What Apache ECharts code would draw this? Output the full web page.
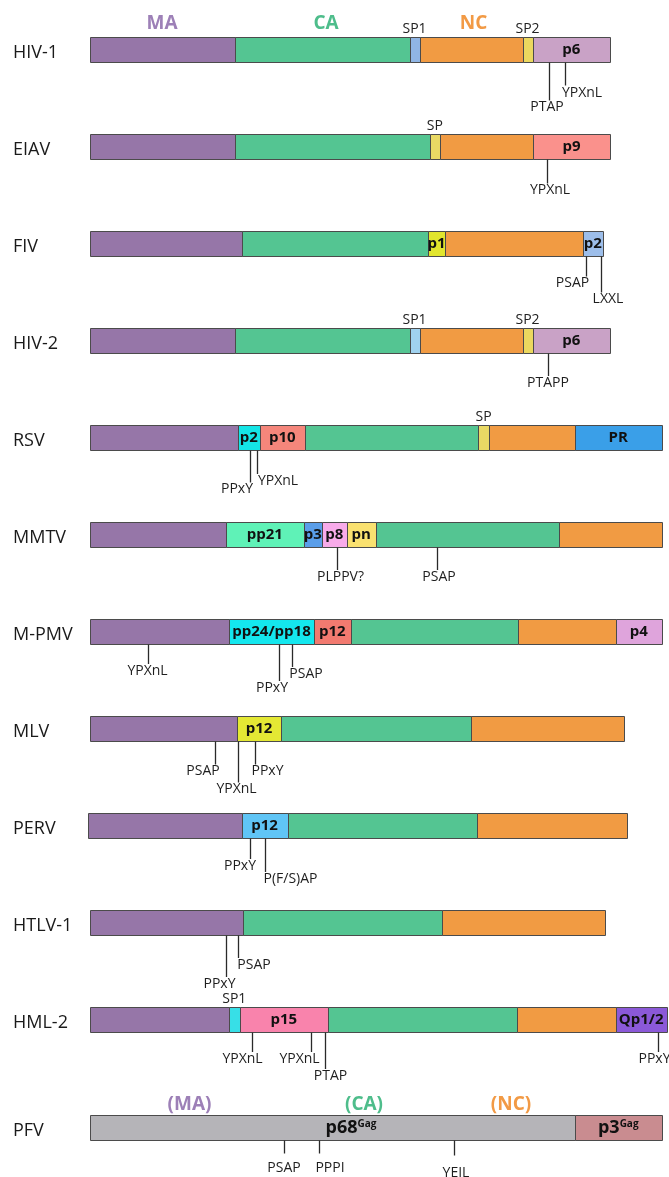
<!DOCTYPE html>
<html>
<head>
<meta charset="utf-8">
<script src="https://cdn.jsdelivr.net/npm/echarts@6/dist/echarts.min.js"></script>
<style>
  html, body { margin: 0; padding: 0; background: #fff; }
  #chart { width: 669px; height: 1177px; }
</style>
</head>
<body>
<div id="chart"></div>
<script>
// rows (top panel) and the PFV panel
var rowNames = ['HIV-1', 'EIAV', 'FIV', 'HIV-2', 'RSV', 'MMTV', 'M-PMV', 'MLV', 'PERV', 'HTLV-1', 'HML-2'];
var pfvRows = ['PFV'];

// Gag domains of each virus: part names and their edges along the schematic
var hiv1Parts = ['MA', 'CA', 'SP1', 'NC', 'SP2', 'p6'];
var hiv1Edges = [90, 234.5, 409.5, 419.5, 522.5, 532.5, 610];
var eiavParts = ['MA', 'CA', 'SP', 'NC', 'p9'];
var eiavEdges = [90, 234.5, 429.5, 440, 533, 610];
var fivParts = ['MA', 'CA', 'p1', 'NC', 'p2'];
var fivEdges = [90, 241.5, 428, 445, 583, 602.5];
var hiv2Parts = ['MA', 'CA', 'SP1', 'NC', 'SP2', 'p6'];
var hiv2Edges = [90, 234.5, 409.5, 419.5, 522.5, 532.5, 610];
var rsvParts = ['MA', 'p2', 'p10', 'CA', 'SP', 'NC', 'PR'];
var rsvEdges = [90, 237.5, 260, 304.5, 478.5, 488.5, 575, 661.5];
var mmtvParts = ['MA', 'pp21', 'p3', 'p8', 'pn', 'CA', 'NC'];
var mmtvEdges = [90, 225.5, 304, 321.5, 347, 375.5, 558.5, 661.5];
var mpmvParts = ['MA', 'pp24/pp18', 'p12', 'CA', 'NC', 'p4'];
var mpmvEdges = [90, 229, 314, 350.5, 517.5, 616, 661.5];
var mlvParts = ['MA', 'p12', 'CA', 'NC'];
var mlvEdges = [90, 237, 281, 470.5, 624];
var pervParts = ['MA', 'p12', 'CA', 'NC'];
var pervEdges = [87.5, 241.5, 287.5, 476.5, 627];
var htlvParts = ['MA', 'CA', 'NC'];
var htlvEdges = [90, 243.5, 442, 604.5];
var hmlParts = ['MA', 'SP1', 'p15', 'CA', 'NC', 'Qp1/2'];
var hmlEdges = [90, 228.5, 240, 327.5, 516.5, 615.5, 667];
var pfvParts = ['p68^Gag', 'p3^Gag'];
var pfvEdges = [90, 575, 661.5];

// late-domain motifs: [virus, position, motif]
var motifs = [
  ['HIV-1', 549, 'PTAP'], ['HIV-1', 565, 'YPXnL'],
  ['EIAV', 546.5, 'YPXnL'],
  ['FIV', 585.5, 'PSAP'], ['FIV', 600.5, 'LXXL'],
  ['HIV-2', 548, 'PTAPP'],
  ['RSV', 250, 'PPxY'], ['RSV', 256.5, 'YPXnL'],
  ['MMTV', 337, 'PLPPV?'], ['MMTV', 437, 'PSAP'],
  ['M-PMV', 147.5, 'YPXnL'], ['M-PMV', 278.5, 'PPxY'], ['M-PMV', 291.5, 'PSAP'],
  ['MLV', 215, 'PSAP'], ['MLV', 237.5, 'YPXnL'], ['MLV', 254.5, 'PPxY'],
  ['PERV', 250, 'PPxY'], ['PERV', 265, 'P(F/S)AP'],
  ['HTLV-1', 225.5, 'PPxY'], ['HTLV-1', 237.5, 'PSAP'],
  ['HML-2', 251.5, 'YPXnL'], ['HML-2', 311, 'YPXnL'], ['HML-2', 324.5, 'PTAP'], ['HML-2', 657.5, 'PPxY'],
  ['PFV', 284, 'PSAP'], ['PFV', 318.5, 'PPPI'], ['PFV', 454, 'YEIL']
];

// domain headings above HIV-1 and PFV: [virus, position, text, domain]
var headings = [
  ['HIV-1', 162, 'MA', 'MA'], ['HIV-1', 326, 'CA', 'CA'], ['HIV-1', 473.5, 'NC', 'NC'],
  ['PFV', 189.5, '(MA)', 'MA'], ['PFV', 364, '(CA)', 'CA'], ['PFV', 511, '(NC)', 'NC']
];

// ---------- styling ----------
var FONT = '"Open Sans", "Noto Sans", sans-serif';
var BAR_H = 25;
var baseColors = { MA: '#9676a8', CA: '#54c592', NC: '#f19b43' };
var headColors = { MA: '#9d80b7', CA: '#4ebd8b', NC: '#f29a45' };
var partColors = {
  'HIV-1': { SP1: '#90b5e4', SP2: '#ebd85f', p6: '#c9a2c6' },
  'EIAV': { SP: '#e9d964', p9: '#fa918c' },
  'FIV': { p1: '#e1e52d', p2: '#9dbeea' },
  'HIV-2': { SP1: '#a0d2ef', SP2: '#ebd85f', p6: '#c9a2c6' },
  'RSV': { p2: '#14e5e6', p10: '#f5867b', SP: '#e9d964', PR: '#3a9fe8' },
  'MMTV': { pp21: '#5ff2b7', p3: '#5a9ee9', p8: '#f8abea', pn: '#f9e170' },
  'M-PMV': { 'pp24/pp18': '#14e7ee', p12: '#f27a70', p4: '#dfa4dc' },
  'MLV': { p12: '#e4e834' },
  'PERV': { p12: '#60c5f6' },
  'HML-2': { SP1: '#37dfe7', p15: '#f983ac', 'Qp1/2': '#8b59d8' },
  'PFV': { 'p68^Gag': '#b5b4b8', 'p3^Gag': '#c98c90' }
};
// where a label is not centred in its domain
var labelAt = { 'PFV:p68^Gag': 351 };
// motif line length, text dx, text dy (same order as motifs)
var motifLayout = [
  [38, -2, 7], [23, 17, 8],
  [24, 3.5, 7],
  [20, -13, 7], [36, 7.5, 7],
  [22.5, 0, 7],
  [32, -13, 7], [23.5, 21.5, 7],
  [22.5, 3.5, 7], [22.5, 2, 7],
  [19.5, 0, 7], [36.5, -6.5, 7], [22.5, 14.5, 7],
  [23, -12, 7], [41, -1, 7], [23, 13, 7],
  [20.5, -10, 7], [33.5, 25.5, 7],
  [41.5, -6, 7], [22.5, 16.5, 7],
  [19.5, -9, 7], [19.5, -11.5, 7], [36.5, 6, 7], [19.5, -3, 7],
  [13, 0, 15], [13, 11.5, 15], [15, 2, 18]
];
var headGap = { 'HIV-1': 13.5, 'PFV': 10 };

var virusParts = {
  'HIV-1': [hiv1Parts, hiv1Edges], 'EIAV': [eiavParts, eiavEdges], 'FIV': [fivParts, fivEdges],
  'HIV-2': [hiv2Parts, hiv2Edges], 'RSV': [rsvParts, rsvEdges], 'MMTV': [mmtvParts, mmtvEdges],
  'M-PMV': [mpmvParts, mpmvEdges], 'MLV': [mlvParts, mlvEdges], 'PERV': [pervParts, pervEdges],
  'HTLV-1': [htlvParts, htlvEdges], 'HML-2': [hmlParts, hmlEdges], 'PFV': [pfvParts, pfvEdges]
};

function colorOf (virus, part) {
  var own = partColors[virus] || {};
  return own[part] || baseColors[part] || '#cccccc';
}

//build segment list for a set of rows
function buildSegments (rows) {
  var list = [];
  for (var r = 0; r < rows.length; r++) {
    var pe = virusParts[rows[r]];
    for (var i = 0; i < pe[0].length; i++) {
      list.push({ virus: rows[r], row: r, name: pe[0][i], start: pe[1][i], end: pe[1][i + 1] });
    }
  }
  return list;
}

function segmentRenderer (segs) {
  return function (params, api) {
    var s = segs[params.dataIndex];
    var p0 = api.coord([api.value(0), api.value(2)]);
    var p1 = api.coord([api.value(1), api.value(2)]);
    var top = Math.round(p0[1] - BAR_H / 2) + 0.5;
    var children = [{
      type: 'rect',
      shape: { x: Math.round(p0[0]) + 0.5, y: top, width: Math.round(p1[0]) - Math.round(p0[0]), height: BAR_H },
      style: { fill: colorOf(s.virus, s.name), stroke: '#4b4b4b', lineWidth: 1 }
    }];
    if (/^SP/.test(s.name)) {
      children.push({
        type: 'text', x: (p0[0] + p1[0]) / 2, y: top - 8,
        style: { text: s.name, fill: '#222', fontFamily: FONT, fontSize: 14, align: 'center', verticalAlign: 'middle' }
      });
    } else if (!baseColors[s.name]) {
      var cx = (p0[0] + p1[0]) / 2;
      var key = s.virus + ':' + s.name;
      if (labelAt[key] != null) cx = api.coord([labelAt[key], api.value(2)])[0];
      var txt, rich;
      if (s.name.indexOf('^') >= 0) {
        var bits = s.name.split('^');
        txt = '{b|' + bits[0] + '}{s|' + bits[1] + '}';
        rich = {
          b: { fontFamily: FONT, fontSize: 18, fontWeight: 'bold', fill: '#111' },
          s: { fontFamily: FONT, fontSize: 10, fontWeight: 'bold', fill: '#111', verticalAlign: 'top' }
        };
      } else {
        txt = s.name;
      }
      children.push({
        type: 'text', x: cx, y: p0[1] + 0.5,
        style: { text: txt, rich: rich, fill: '#111', fontFamily: FONT, fontSize: 15, fontWeight: 'bold', align: 'center', verticalAlign: 'middle' }
      });
    }
    return { type: 'group', children: children };
  };
}

function motifRenderer (items) {
  return function (params, api) {
    var m = items[params.dataIndex];
    var lay = motifLayout[m.index];
    var p = api.coord([api.value(0), api.value(1)]);
    var x = Math.round(p[0]) + 0.5;
    var bottom = Math.round(p[1] - BAR_H / 2) + BAR_H + 0.5;
    return {
      type: 'group',
      children: [{
        type: 'line',
        shape: { x1: x, y1: bottom, x2: x, y2: bottom + lay[0] },
        style: { stroke: '#2a2a2a', lineWidth: 1.3 }
      }, {
        type: 'text', x: p[0] + lay[1], y: bottom + lay[0] + lay[2],
        style: { text: m.label, fill: '#1e1e1e', fontFamily: FONT, fontSize: 14, align: 'center', verticalAlign: 'middle' }
      }]
    };
  };
}

function headingRenderer (items) {
  return function (params, api) {
    var h = items[params.dataIndex];
    var p = api.coord([api.value(0), api.value(1)]);
    var top = Math.round(p[1] - BAR_H / 2);
    return {
      type: 'text', x: p[0], y: top - headGap[h.virus],
      style: { text: h.text, fill: headColors[h.domain], fontFamily: FONT, fontSize: 19, fontWeight: 'bold', align: 'center', verticalAlign: 'middle' }
    };
  };
}

function panelSeries (rows, gi) {
  var segs = buildSegments(rows);
  var ms = [], hs = [];
  for (var i = 0; i < motifs.length; i++) {
    var r = rows.indexOf(motifs[i][0]);
    if (r >= 0) ms.push({ index: i, row: r, pos: motifs[i][1], label: motifs[i][2] });
  }
  for (var j = 0; j < headings.length; j++) {
    var hr = rows.indexOf(headings[j][0]);
    if (hr >= 0) hs.push({ virus: headings[j][0], row: hr, pos: headings[j][1], text: headings[j][2], domain: headings[j][3] });
  }
  return [{
    type: 'custom', xAxisIndex: gi, yAxisIndex: gi,
    renderItem: segmentRenderer(segs),
    encode: { x: [0, 1], y: 2 },
    data: segs.map(function (s) { return [s.start, s.end, s.row]; })
  }, {
    type: 'custom', xAxisIndex: gi, yAxisIndex: gi,
    renderItem: motifRenderer(ms),
    encode: { x: 0, y: 1 },
    data: ms.map(function (m) { return [m.pos, m.row]; })
  }, {
    type: 'custom', xAxisIndex: gi, yAxisIndex: gi,
    renderItem: headingRenderer(hs),
    encode: { x: 0, y: 1 },
    data: hs.map(function (h) { return [h.pos, h.row]; })
  }];
}

function rowAxis (rows, gi) {
  return {
    type: 'category', gridIndex: gi, data: rows, inverse: true,
    axisLine: { show: false }, axisTick: { show: false }, splitLine: { show: false },
    axisLabel: {
      inside: true, interval: 0, margin: 13,
      formatter: function (v) { return '{n|' + v + '}'; },
      rich: { n: { fontFamily: FONT, fontSize: 18, color: '#1a1a1a', padding: [7, 0, 0, 0] } }
    }
  };
}

function valueAxis (gi) {
  return { type: 'value', gridIndex: gi, min: 0, max: 669, show: false };
}

var chart = echarts.init(document.getElementById('chart'));
chart.setOption({
  animation: false,
  backgroundColor: '#ffffff',
  grid: [
    { left: 0, right: 0, top: 0.5, height: 1067, outerBoundsMode: 'none' },
    { left: 0, right: 0, top: 1100, height: 55, outerBoundsMode: 'none' }
  ],
  xAxis: [valueAxis(0), valueAxis(1)],
  yAxis: [rowAxis(rowNames, 0), rowAxis(pfvRows, 1)],
  series: panelSeries(rowNames, 0).concat(panelSeries(pfvRows, 1))
});
</script>
</body>
</html>
